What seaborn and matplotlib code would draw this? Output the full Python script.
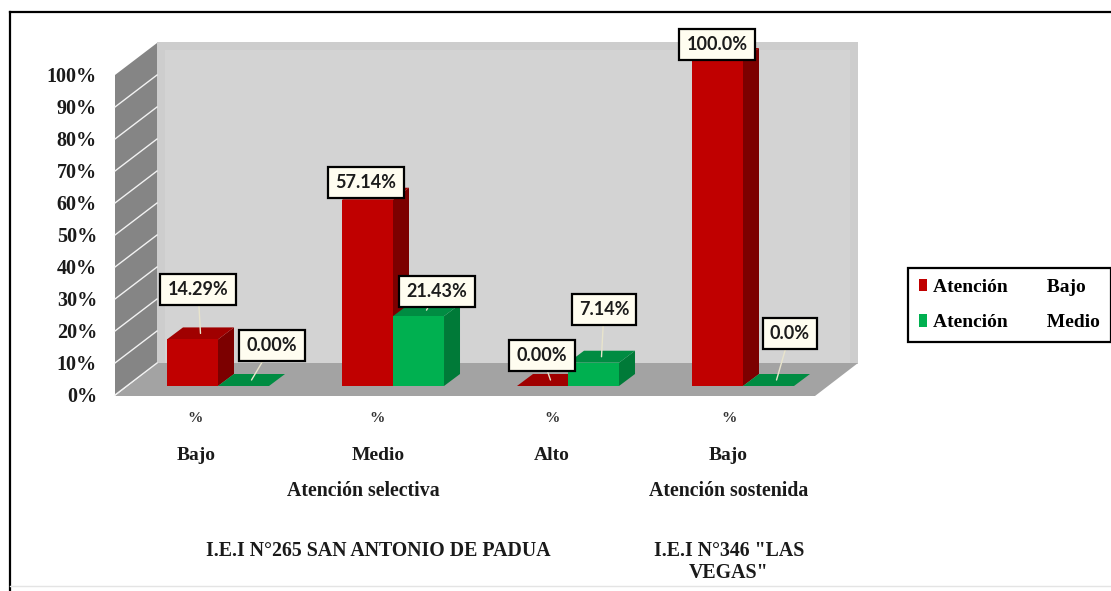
import pandas as pd
import matplotlib.pyplot as plt
import seaborn as sns
from matplotlib.patches import Polygon

# Datos
grupos = ["Selectiva Bajo", "Selectiva Medio", "Selectiva Alto", "Sostenida Bajo"]
pct_bajo = [14.29, 57.14, 0.00, 100.0]
pct_medio = [0.00, 21.43, 7.14, 0.0]
etiq_bajo = ["14.29%", "57.14%", "0.00%", "100.0%"]
etiq_medio = ["0.00%", "21.43%", "7.14%", "0.0%"]
series = ["Atención        Bajo", "Atención        Medio"]
niveles = ["Bajo", "Medio", "Alto", "Bajo"]
ticks_y = [0, 10, 20, 30, 40, 50, 60, 70, 80, 90, 100]

df = pd.DataFrame({
    "grupo": grupos * 2,
    "pct": pct_bajo + pct_medio,
    "serie": [series[0]] * 4 + [series[1]] * 4,
})

W, H = 1111, 591
SERIF = "Liberation Serif"
plt.rcParams["font.family"] = SERIF
plt.rcParams["font.weight"] = "bold"


def fx(x):
    return x / W


def fy(y):
    return 1 - y / H


def rect_px(x0, y0, x1, y1):
    return [fx(x0), fy(y1), (x1 - x0) / W, (y1 - y0) / H]


fig = plt.figure(figsize=(W / 100, H / 100), dpi=100, facecolor="white")

# Marco exterior
fig.add_artist(plt.Line2D([fx(10), fx(10)], [fy(12), fy(591)], color="black", lw=1.6))
fig.add_artist(plt.Line2D([fx(10), fx(1111)], [fy(12), fy(12)], color="black", lw=1.6))
fig.add_artist(plt.Line2D([fx(10), fx(1111)], [fy(586), fy(586)], color="#e4e4e4", lw=1))

# Pared del fondo y piso
fig.add_artist(Polygon([(fx(157), fy(42)), (fx(858), fy(42)), (fx(858), fy(364)), (fx(157), fy(364))],
                       closed=True, transform=fig.transFigure, fc="#cdcdcd", ec="none", zorder=-3))
fig.add_artist(Polygon([(fx(165), fy(50)), (fx(850), fy(50)), (fx(850), fy(364)), (fx(165), fy(364))],
                       closed=True, transform=fig.transFigure, fc="#d3d3d3", ec="none", zorder=-2))
fig.add_artist(Polygon([(fx(115), fy(396)), (fx(157), fy(363)), (fx(858), fy(363)), (fx(815), fy(396))],
                       closed=True, transform=fig.transFigure, fc="#a3a3a3", ec="none", zorder=-1))

# Pared lateral con las marcas del eje
ax_w = fig.add_axes(rect_px(115, 75, 157, 395), facecolor="none")
ax_w.set_xlim(0, 1)
ax_w.set_ylim(0, 100)
ax_w.add_patch(Polygon([(0, 0), (1, 10), (1, 110), (0, 100)], closed=True, fc="#858585", ec="none", clip_on=False))
for t in ticks_y[:-1]:
    ax_w.plot([0, 1], [t, t + 10], color="#f2f2f2", lw=1, clip_on=False)
ax_w.set_xticks([])
ax_w.set_yticks(ticks_y)
ax_w.set_yticklabels([f"{t}%" for t in ticks_y], fontsize=14.5, fontweight="bold", color="#1a1a1a")
ax_w.tick_params(axis="y", length=0, pad=13)
sns.despine(ax=ax_w, left=True, bottom=True)

# Barras
ax = fig.add_axes(rect_px(130.5, 60, 830.5, 386), facecolor="none")
sns.barplot(data=df, x="grupo", y="pct", hue="serie", order=grupos, hue_order=series,
            palette=["#c00000", "#00b050"], width=0.583, saturation=1, gap=0, ax=ax)
ax.set_xlim(-0.5, 3.5)
ax.set_ylim(0, 100)

# Caras laterales y superiores (profundidad en pixeles pasada a datos)
dx = 16 / 175
dy = 12 / 3.26
lados = ["#7c0000", "#007a38"]
topes = ["#a00000", "#008c42"]
centros = []
for i, cont in enumerate(ax.containers):
    z = 3 + 3 * i
    fila = []
    for b in cont:
        x0, w, h = b.get_x(), b.get_width(), b.get_height()
        b.set_zorder(z + 2)
        b.set_edgecolor("none")
        if h > 0:
            ax.add_patch(Polygon([(x0 + w, 0), (x0 + w + dx, dy), (x0 + w + dx, h + dy), (x0 + w, h)],
                                 closed=True, fc=lados[i], ec="none", zorder=z, clip_on=False))
        ax.add_patch(Polygon([(x0, h), (x0 + w, h), (x0 + w + dx, h + dy), (x0 + dx, h + dy)],
                             closed=True, fc=topes[i], ec="none", zorder=z + 1, clip_on=False))
        fila.append((x0 + w / 2 + dx / 2, h + dy / 2))
    centros.append(fila)

# Etiquetas de valor, centro de cada recuadro en pixeles
pos_bajo = [(198, 288), (366, 181), (542, 354), (717, 43)]
pos_medio = [(272, 344), (437, 290), (604, 308), (790, 332)]
for fila, textos, posiciones in [(centros[0], etiq_bajo, pos_bajo), (centros[1], etiq_medio, pos_medio)]:
    for xy, txt, (px, py) in zip(fila, textos, posiciones):
        ax.annotate(txt, xy=xy, xycoords="data", xytext=(fx(px), fy(py)), textcoords="figure fraction",
                    ha="center", va="center_baseline", fontsize=13, fontweight="bold", family="Lato",
                    color="#1c1c1c", zorder=20, annotation_clip=False,
                    bbox=dict(boxstyle="square,pad=0.4", fc="#fffdf0", ec="black", lw=1.6),
                    arrowprops=dict(arrowstyle="-", color="#e8e4cc", lw=1, shrinkA=0, shrinkB=0, zorder=19))
ax.set_axis_off()

# Leyenda
sns.move_legend(ax, "upper left", bbox_to_anchor=(fx(908), fy(268)), bbox_transform=fig.transFigure,
                title=None, frameon=True, fancybox=False, edgecolor="black", framealpha=1,
                fontsize=14, handlelength=0.45, handleheight=0.6, handletextpad=0.3,
                labelspacing=0.95, borderpad=0.55, borderaxespad=0)
ax.get_legend().get_frame().set_linewidth(1.6)

# Rotulos del eje x
x_pct = [195, 377, 552, 729]
x_nivel = [196, 378, 552, 728]
for x in x_pct:
    fig.text(fx(x), fy(418), "%", ha="center", va="center", fontsize=11, color="#333333")
for x, txt in zip(x_nivel, niveles):
    fig.text(fx(x), fy(456), txt, ha="center", va="center", fontsize=14, color="#1a1a1a")
fig.text(fx(363), fy(491), "Atención selectiva", ha="center", va="center", fontsize=14.3, color="#1a1a1a")
fig.text(fx(729), fy(491), "Atención sostenida", ha="center", va="center", fontsize=14.3, color="#1a1a1a")
fig.text(fx(378), fy(551), "I.E.I N°265 SAN ANTONIO DE PADUA", ha="center", va="center", fontsize=14.3, color="#1a1a1a")
fig.text(fx(729), fy(562), "I.E.I N°346 \"LAS\nVEGAS\"", ha="center", va="center", fontsize=14.3,
         linespacing=1.1, color="#1a1a1a")

fig.savefig("out.png", dpi=100)
